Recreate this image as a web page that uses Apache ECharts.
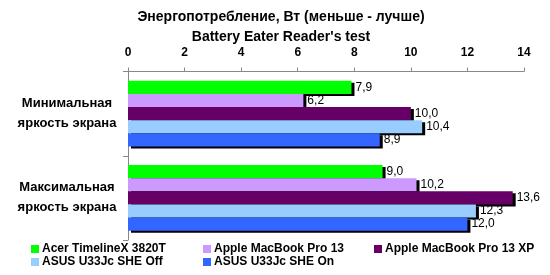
<!DOCTYPE html>
<html><head><meta charset="utf-8">
<script src="https://cdn.jsdelivr.net/npm/echarts@6/dist/echarts.min.js"></script>
<style>html,body{margin:0;padding:0;background:#fff}#c{width:550px;height:275px}</style>
</head><body><div id="c"></div>
<script>
const categories = ['Минимальная\nяркость экрана', 'Максимальная\nяркость экрана'];
const seriesNames = ['Acer TimelineX 3820T', 'Apple MacBook Pro 13', 'Apple MacBook Pro 13 XP', 'ASUS U33Jc SHE Off', 'ASUS U33Jc SHE On'];
const acer = [7.9, 9.0];
const mbp13 = [6.2, 10.2];
const mbp13xp = [10.0, 13.6];
const asusOff = [10.4, 12.3];
const asusOn = [8.9, 12.0];
const colors = ['#00ff00', '#cc99ff', '#660066', '#99ccff', '#3366ff'];
const values = [acer, mbp13, mbp13xp, asusOff, asusOn];

const FONT = 'Liberation Sans';
const chart = echarts.init(document.getElementById('c'), null, {renderer: 'canvas'});

const legendText = {fontFamily: FONT, fontSize: 12, fontWeight: 'bold', color: '#000', lineHeight: 13, padding: [0, 0, 0, -2]};
const legendCols = [[0, 3], [1, 4], [2]];
const legendX = [31, 203, 374];

chart.setOption({
  animation: false,
  title: [
    {text: 'Энергопотребление, Вт (меньше - лучше)', left: 276, textAlign: 'center', top: 5,
     textStyle: {fontFamily: FONT, fontSize: 14, fontWeight: 'bold', color: '#000'}},
    {text: "Battery Eater Reader's test", left: 276, textAlign: 'center', top: 25,
     textStyle: {fontFamily: FONT, fontSize: 14, fontWeight: 'bold', color: '#000'}}
  ],
  legend: legendCols.map((col, k) => ({
    data: col.map(i => seriesNames[i]), orient: 'vertical', left: legendX[k], top: 242.5,
    itemWidth: 8, itemHeight: 8, itemGap: 0, padding: 0, icon: 'rect', textStyle: legendText
  })),
  grid: {left: 128, right: 26, top: 71.5, bottom: 35},
  xAxis: {
    type: 'value', position: 'top', min: 0, max: 14, interval: 2,
    splitLine: {show: false},
    axisLine: {show: true, lineStyle: {color: '#888', width: 1}},
    axisTick: {show: true, length: 4, lineStyle: {color: '#888'}},
    axisLabel: {fontFamily: FONT, fontSize: 12, fontWeight: 'bold', color: '#000', margin: 13}
  },
  yAxis: {
    type: 'category', data: categories, inverse: true,
    axisLine: {show: true, lineStyle: {color: '#888', width: 1}},
    axisTick: {show: true, length: 5, lineStyle: {color: '#888'}},
    axisLabel: {fontFamily: FONT, fontSize: 13, fontWeight: 'bold', color: '#000', lineHeight: 20, align: 'center', margin: 61}
  },
  series: values.map((d, i) => ({
    name: seriesNames[i], type: 'bar', data: d, barCategoryGap: '22%', barGap: '0%',
    itemStyle: {color: colors[i], shadowColor: '#000', shadowOffsetX: 3, shadowOffsetY: 2, shadowBlur: 0},
    label: {show: true, position: 'right', distance: 4, fontFamily: FONT, fontSize: 12, color: '#000',
      formatter: p => p.value.toFixed(1).replace('.', ',')}
  }))
});
</script></body></html>
